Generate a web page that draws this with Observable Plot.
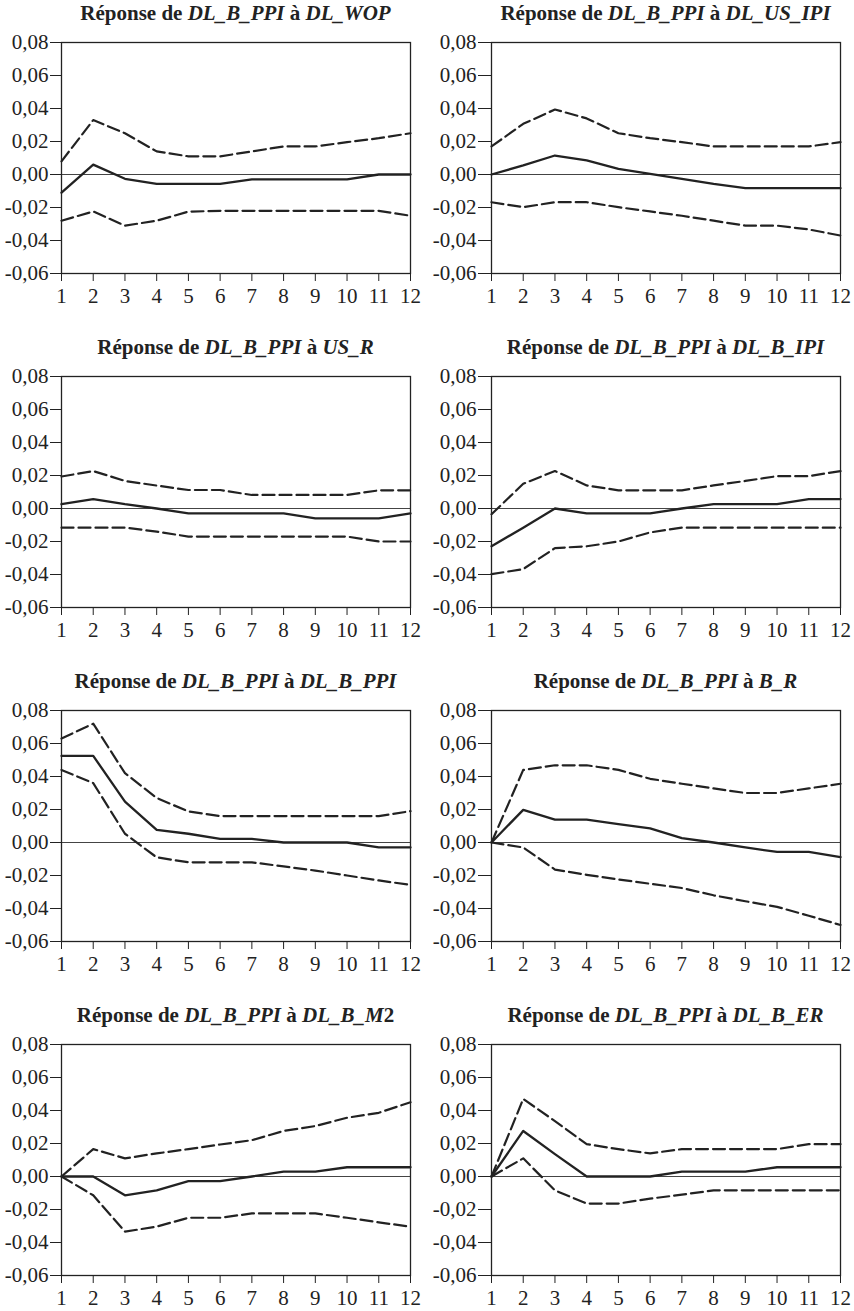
<!DOCTYPE html>
<html>
<head>
<meta charset="utf-8">
<script src="https://cdn.jsdelivr.net/npm/d3@7"></script>
<script src="https://cdn.jsdelivr.net/npm/@observablehq/plot@0.6"></script>
<style>
  html, body { margin: 0; padding: 0; background: #fff; overflow: hidden; }
  #grid { display: grid; grid-template-columns: 427px 427px; width: 854px; }
  .cell { width: 427px; height: 334px; overflow: visible; }
  .title { height: 30px; box-sizing: border-box; padding-top: 3px; text-align: center;
           font-family: "Liberation Serif", "Times New Roman", serif; font-weight: bold;
           font-size: 21px; line-height: 21px; color: #222; white-space: nowrap; }
  .title i { font-style: italic; }
</style>
</head>
<body>
<div id="grid"></div>
<script>
const horizons = [1, 2, 3, 4, 5, 6, 7, 8, 9, 10, 11, 12];
const yTicks = [-0.06, -0.04, -0.02, 0, 0.02, 0.04, 0.06, 0.08];
const responseVar = "DL_B_PPI";
const shockNames = ["DL_WOP", "DL_US_IPI", "US_R", "DL_B_IPI", "DL_B_PPI", "B_R", "DL_B_M2", "DL_B_ER"];

// 1. DL_WOP
const wopResp = [-0.011, 0.006, -0.0026, -0.0057, -0.0057, -0.0057, -0.003, -0.003, -0.003, -0.003, 0, 0];
const wopUp   = [0.008, 0.033, 0.025, 0.014, 0.011, 0.011, 0.014, 0.017, 0.017, 0.0196, 0.022, 0.025];
const wopLo   = [-0.028, -0.0224, -0.031, -0.028, -0.0225, -0.022, -0.022, -0.022, -0.022, -0.022, -0.022, -0.025];
// 2. DL_US_IPI
const usIpiResp = [0, 0.0055, 0.0115, 0.0085, 0.0034, 0.0004, -0.0026, -0.0057, -0.0083, -0.0083, -0.0083, -0.0083];
const usIpiUp   = [0.017, 0.0307, 0.0394, 0.034, 0.025, 0.022, 0.0196, 0.017, 0.017, 0.017, 0.017, 0.0196];
const usIpiLo   = [-0.0168, -0.0198, -0.0168, -0.0168, -0.0198, -0.0224, -0.025, -0.028, -0.031, -0.031, -0.0333, -0.037];
// 3. US_R
const usRResp = [0.0026, 0.0057, 0.0026, 0, -0.003, -0.003, -0.003, -0.003, -0.006, -0.006, -0.006, -0.003];
const usRUp   = [0.0194, 0.0227, 0.0167, 0.0139, 0.0112, 0.0112, 0.0082, 0.0082, 0.0082, 0.0082, 0.011, 0.011];
const usRLo   = [-0.0116, -0.0116, -0.0116, -0.014, -0.017, -0.017, -0.017, -0.017, -0.017, -0.017, -0.020, -0.020];
// 4. DL_B_IPI
const bIpiResp = [-0.0229, -0.0116, 0, -0.003, -0.003, -0.003, 0, 0.0026, 0.0026, 0.0026, 0.0057, 0.0057];
const bIpiUp   = [-0.0035, 0.015, 0.0227, 0.014, 0.011, 0.011, 0.011, 0.014, 0.0167, 0.0196, 0.0196, 0.0227];
const bIpiLo   = [-0.0398, -0.0367, -0.024, -0.0229, -0.020, -0.0145, -0.0116, -0.0116, -0.0116, -0.0116, -0.0116, -0.0116];
// 5. DL_B_PPI
const bPpiResp = [0.0525, 0.0525, 0.0248, 0.0077, 0.0053, 0.0022, 0.0022, 0, 0, 0, -0.003, -0.003];
const bPpiUp   = [0.063, 0.072, 0.042, 0.027, 0.0188, 0.016, 0.016, 0.016, 0.016, 0.016, 0.016, 0.019];
const bPpiLo   = [0.044, 0.036, 0.0053, -0.009, -0.012, -0.012, -0.012, -0.0145, -0.017, -0.020, -0.023, -0.0257];
// 6. B_R
const bRResp = [0, 0.0198, 0.0139, 0.0139, 0.0112, 0.0086, 0.0027, 0, -0.003, -0.0057, -0.0057, -0.0088];
const bRUp   = [0, 0.044, 0.0468, 0.0468, 0.044, 0.0386, 0.0356, 0.0328, 0.030, 0.030, 0.0328, 0.0356];
const bRLo   = [0, -0.003, -0.0164, -0.0196, -0.0224, -0.025, -0.0276, -0.032, -0.0356, -0.039, -0.0444, -0.050];
// 7. DL_B_M2
const m2Resp = [0, 0, -0.0114, -0.0084, -0.0028, -0.0028, 0, 0.003, 0.003, 0.0056, 0.0056, 0.0056];
const m2Up   = [0, 0.0166, 0.011, 0.014, 0.0166, 0.0194, 0.022, 0.0276, 0.0306, 0.0356, 0.0386, 0.045];
const m2Lo   = [0, -0.0114, -0.0334, -0.0304, -0.025, -0.025, -0.0224, -0.0224, -0.0224, -0.025, -0.0278, -0.0304];
// 8. DL_B_ER
const erResp = [0, 0.0276, 0.0136, 0, 0, 0, 0.003, 0.003, 0.003, 0.0056, 0.0056, 0.0056];
const erUp   = [0, 0.047, 0.0336, 0.0196, 0.0166, 0.014, 0.0166, 0.0166, 0.0166, 0.0166, 0.0196, 0.0196];
const erLo   = [0, 0.011, -0.0084, -0.0164, -0.0164, -0.0134, -0.011, -0.0084, -0.0084, -0.0084, -0.0084, -0.0084];

const panels = [
  [wopResp, wopUp, wopLo], [usIpiResp, usIpiUp, usIpiLo],
  [usRResp, usRUp, usRLo], [bIpiResp, bIpiUp, bIpiLo],
  [bPpiResp, bPpiUp, bPpiLo], [bRResp, bRUp, bRLo],
  [m2Resp, m2Up, m2Lo], [erResp, erUp, erLo]
];

const fmt = d => (Math.abs(d) < 1e-9 ? "0,00" : d.toFixed(2).replace(".", ","));

function titleHTML(shock) {
  let s = shock;
  let tail = "";
  if (s.endsWith("M2")) { s = s.slice(0, -1); tail = "2"; }
  return `Réponse de <i>${responseVar}</i> à <i>${s}</i>${tail}`;
}

const grid = document.getElementById("grid");
panels.forEach(([resp, up, lo], i) => {
  const left = i % 2 === 0;
  const mL = left ? 61 : 64, mR = left ? 17 : 14;
  const data = horizons.map((h, k) => ({h, r: resp[k], u: up[k], l: lo[k]}));
  const cell = document.createElement("div");
  cell.className = "cell";
  const t = document.createElement("div");
  t.className = "title";
  t.style.paddingLeft = mL + "px";
  t.style.paddingRight = mR + "px";
  t.innerHTML = titleHTML(shockNames[i]);
  cell.appendChild(t);
  const chart = Plot.plot({
    width: 427, height: 304,
    marginTop: 12, marginBottom: 61, marginLeft: mL, marginRight: mR,
    style: {fontFamily: "'Liberation Serif', 'Times New Roman', serif", fontSize: "21px", color: "#222", background: "#fff"},
    x: {domain: [1, 12]},
    y: {domain: [-0.06, 0.08]},
    marks: [
      Plot.ruleY([0], {stroke: "#444", strokeWidth: 1}),
      Plot.line(data, {x: "h", y: "u", stroke: "#222", strokeWidth: 2.2, strokeDasharray: "12,5"}),
      Plot.line(data, {x: "h", y: "l", stroke: "#222", strokeWidth: 2.2, strokeDasharray: "12,5"}),
      Plot.line(data, {x: "h", y: "r", stroke: "#222", strokeWidth: 2.3}),
      Plot.frame({stroke: "#222", strokeWidth: 1.3}),
      Plot.axisX({ticks: horizons, tickSize: 8, tickPadding: 7, fontSize: 21, tickFormat: d => String(d), label: null}),
      Plot.axisY({ticks: yTicks, tickSize: left ? 11 : 13, tickPadding: 2, fontSize: 21, tickFormat: fmt, label: null})
    ]
  });
  cell.appendChild(chart);
  grid.appendChild(cell);
});
</script>
</body>
</html>
